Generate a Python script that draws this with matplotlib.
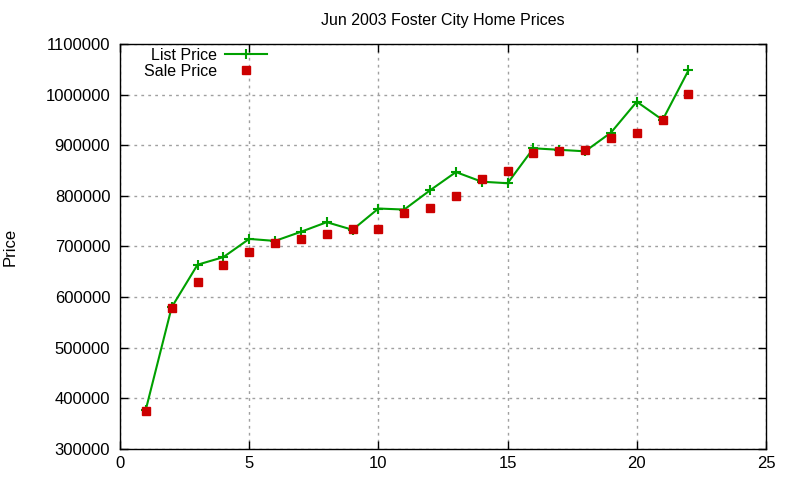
import matplotlib
matplotlib.use("Agg")
import matplotlib.pyplot as plt

plt.rcParams['font.family'] = ['Liberation Sans', 'DejaVu Sans']

# house index (1..22)
house = list(range(1, 23))
list_price = [378000, 580000, 664000, 679000, 715000, 711000, 729000, 748000,
              733000, 775000, 773000, 811000, 847000, 828000, 825000, 894000,
              891000, 888000, 925000, 986000, 950000, 1048000]
sale_price = [376000, 579000, 630000, 664000, 689000, 706000, 715000, 725000,
              735000, 735000, 767000, 777000, 800000, 834000, 850000, 884000,
              889000, 891000, 915000, 925000, 949000, 1002000]
yticks = [300000, 400000, 500000, 600000, 700000, 800000, 900000, 1000000, 1100000]
xticks = [0, 5, 10, 15, 20, 25]

fig = plt.figure(figsize=(8, 4.8), dpi=100)
ax = fig.add_axes([0.15, 1 - 449 / 480, (766 - 120) / 800, (449 - 44) / 480])

ax.plot(house, list_price, color='#00a000', lw=1.5, marker='+', ms=7, mew=1.5,
        label='List Price')
ax.plot(house, sale_price, ls='none', marker='s', ms=5.8, color='#cc0000',
        label='Sale Price')

ax.set_xlim(0, 25)
ax.set_ylim(300000, 1100000)
ax.set_xticks(xticks)
ax.set_yticks(yticks)
ax.set_yticklabels([str(v) for v in yticks])
ax.tick_params(direction='in', length=6, width=1, top=True, right=True,
               labelsize=12, color='black')
ax.tick_params(axis='y', pad=7)
ax.tick_params(axis='x', pad=5)
ax.grid(True, color='#a0a0a0', ls=(0, (2, 3)), lw=1)
for s in ax.spines.values():
    s.set_linewidth(1)

ax.set_title('Jun 2003 Foster City Home Prices', fontsize=11.5, pad=14)
ax.set_ylabel('Price', fontsize=12, labelpad=20)

ax.legend(loc='upper left', bbox_to_anchor=(20 / 646, 1.0), frameon=False,
          markerfirst=False, fontsize=11.5, handlelength=2.6, handletextpad=0.5,
          labelspacing=0.05, borderpad=0, borderaxespad=0.25)

fig.savefig('out.png', dpi=100)
